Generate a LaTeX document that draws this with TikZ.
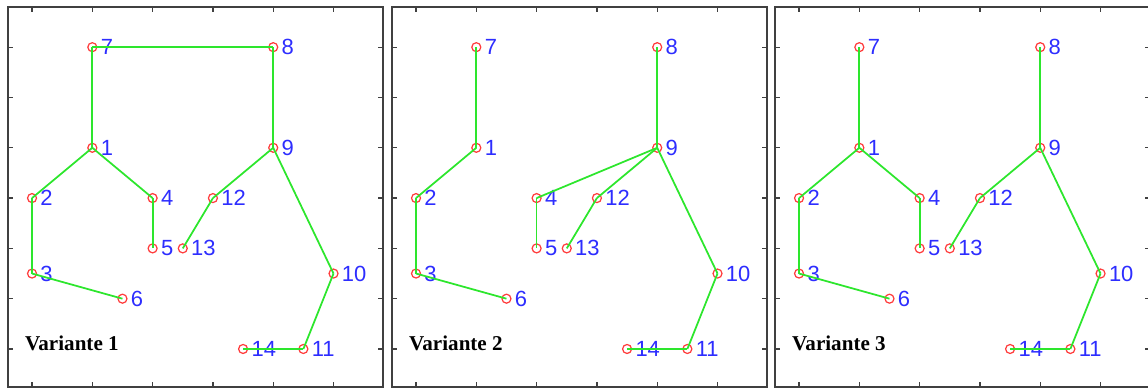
\documentclass[tikz,border=0pt]{standalone}
\usepackage{fontspec}
\setmainfont{Liberation Serif}
\setsansfont{Liberation Sans}
\usepackage{tikz}
\usepackage{xcolor}

\definecolor{ptred}{RGB}{255,60,60}
\definecolor{lblblue}{RGB}{45,45,255}
\definecolor{linkgreen}{RGB}{45,230,45}

\begin{document}
\begin{tikzpicture}[x=1.206cm, y=1.006cm,
    pt/.style={circle, draw=ptred, line width=0.7pt, inner sep=0pt,
      minimum size=0.18cm},
    lbl/.style={text=lblblue, inner sep=0pt, label distance=0.06cm,
      font=\sffamily\fontsize{12.5}{12.5}\selectfont},
    link/.style={draw=linkgreen, line width=1pt},
    frame/.style={draw=black!75, line width=1.1pt},
    tick/.style={draw=black!75, line width=0.7pt},
    var/.style={font=\bfseries\fontsize{12}{12}\selectfont, inner sep=0pt}]
  \useasboundingbox (-0.531,-0.775) rectangle (18.507,6.938);
  % three panels, one per variant, same point set
  \foreach \v/\dx in {1/0, 2/6.368, 3/12.72} {
    \begin{scope}[xshift=\dx*1.206cm]
      % axes box with inward ticks
      \draw[frame] (-0.4,-0.755) rectangle (5.82,6.8);
      \foreach \i in {0,...,5} {
        \draw[tick] (\i,-0.755) -- ++(0,0.1cm);
        \draw[tick] (\i,6.8) -- ++(0,-0.1cm);
      }
      \foreach \j in {0,...,6} {
        \draw[tick] (-0.4,\j) -- ++(0.1cm,0);
        \draw[tick] (5.82,\j) -- ++(-0.1cm,0);
      }
      % points
      \foreach \n/\px/\py in {1/1/4, 2/0/3, 3/0/1.5, 4/2/3, 5/2/2, 6/1.5/1,
          7/1/6, 8/4/6, 9/4/4, 10/5/1.5, 11/4.5/0, 12/3/3, 13/2.5/2,
          14/3.5/0}
        \node[pt, label={[lbl]right:\n}] (v\v n\n) at (\px,\py) {};
      % variant name
      \node[var, anchor=base west] (title\v) at (-0.12,-0.03) {Variante \v};
    \end{scope}
  }
  % variant 1
  \foreach \a/\b in {7/8, 7/1, 8/9, 1/2, 1/4, 2/3, 3/6, 4/5, 9/12, 12/13,
      9/10, 10/11, 11/14}
    \draw[link] (v1n\a.center) -- (v1n\b.center);
  % variant 2
  \foreach \a/\b in {7/1, 1/2, 2/3, 3/6, 4/5, 8/9, 9/4, 9/12, 12/13,
      9/10, 10/11, 11/14}
    \draw[link] (v2n\a.center) -- (v2n\b.center);
  % variant 3
  \foreach \a/\b in {7/1, 1/2, 1/4, 2/3, 3/6, 4/5, 8/9, 9/12, 12/13,
      9/10, 10/11, 11/14}
    \draw[link] (v3n\a.center) -- (v3n\b.center);
\end{tikzpicture}
\end{document}
